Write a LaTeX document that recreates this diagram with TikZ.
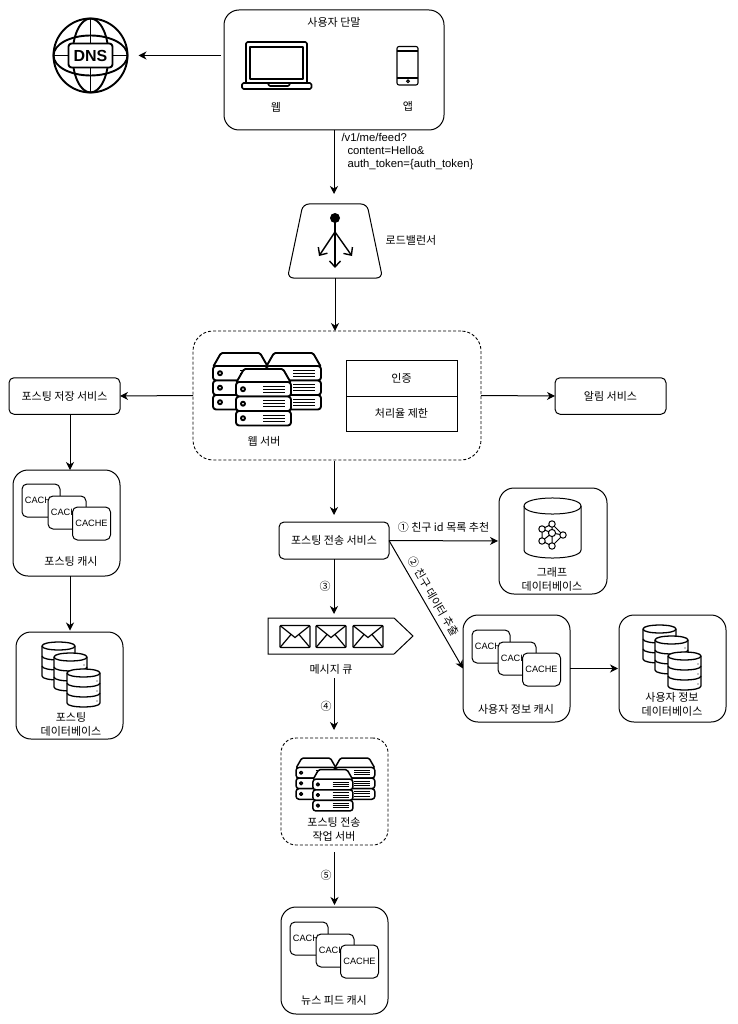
\documentclass[tikz,border=0pt]{standalone}
\usepackage{fontspec}
\setmainfont{Liberation Sans}
\newfontfamily\kr{Noto Sans CJK KR}
\usetikzlibrary{arrows.meta}
\tikzset{
  x=1pt,y=-1pt,
  arr/.style={draw,line width=1pt,-{Stealth[length=8pt,width=8pt,inset=2.5pt]}},
  krtext/.style={font=\kr\fontsize{11}{14}\selectfont,inner sep=0pt,align=center},
  latin/.style={font=\fontsize{11.3}{13}\selectfont,inner sep=0pt,align=left},
  rbox/.style={draw,line width=1pt,rounded corners=15pt,inner sep=0pt,outer sep=0pt,minimum width=#1},
  svc/.style={draw,line width=1pt,rounded corners=5pt,inner sep=0pt,outer sep=0pt,minimum width=111pt,minimum height=36.5pt,font=\kr\fontsize{11}{14}\selectfont},
  cell/.style={draw,line width=.9pt,inner sep=0pt,outer sep=0pt,minimum width=111pt,font=\kr\fontsize{11}{14}\selectfont},
  cachebox/.style={draw,line width=1pt,fill=white,rounded corners=5pt,inner sep=0pt,minimum width=38pt,minimum height=33pt,font=\fontsize{9.2}{11}\selectfont},
  icon/.style={line width=1.9pt,line join=round},
  dashbox/.style={line width=.9pt,dash pattern=on 3pt off 2pt},
  serverstack/.pic={
    \foreach \dx/\dy in {0/0,53/0,23/16}{
      \begin{scope}[shift={(\dx,\dy)}]
        \draw[fill=white,rounded corners=1.5pt] (0,14) -- (8,0) -- (47,0) -- (55,14) -- cycle;
        \foreach \r in {13,27.5,42}{
          \draw[fill=white,rounded corners=3pt] (0,\r) rectangle (55,\r+14.5);
          \draw[fill=white] (7,\r+7.2) circle[radius=2];
          \draw[line width=1pt] (27,\r+4.3) -- (49,\r+4.3) (27,\r+7.2) -- (49,\r+7.2) (27,\r+10.1) -- (49,\r+10.1);
        }
      \end{scope}
    }
  },
  cachestack/.pic={
    \node[cachebox] (-a) at (19,16.5) {CACHE};
    \node[cachebox] (-b) at (45,28.5) {CACHE};
    \node[cachebox] (-c) at (69.5,39.5) {CACHE};
  },
  dbstack/.pic={
    \foreach \dx/\dy in {0/0,12/11,25/27}{
      \begin{scope}[shift={(\dx,\dy)},line width=1.3pt]
        \draw[fill=white] (0,4) .. controls (0,-1.3) and (33,-1.3) .. (33,4) -- (33,34) .. controls (33,39.3) and (0,39.3) .. (0,34) -- cycle;
        \draw (0,4) .. controls (0,9.3) and (33,9.3) .. (33,4);
        \draw (0,14) .. controls (0,19.3) and (33,19.3) .. (33,14);
        \draw (0,24) .. controls (0,29.3) and (33,29.3) .. (33,24);
        \foreach \r in {12,22,32}{\fill (30,\r) circle[radius=.7];}
      \end{scope}
    }
  },
  envelope/.pic={
    \draw[line width=1.2pt,rounded corners=1pt] (0,0) rectangle (30,22);
    \draw[line width=1.2pt] (0,0) -- (15,12) -- (30,0) (0,22) -- (11,9) (30,22) -- (19,9);
  }
}
\begin{document}
\begin{tikzpicture}[line width=1pt]
\useasboundingbox (0,0) rectangle (737,1024);
\fill[white] (0,0) rectangle (737,1024);

% user terminal
\node[rbox=220pt,minimum height=120pt] (user) at (334,70) {};
\node[krtext] (usert) at (334,22.5) {사용자 단말};
\begin{scope}[icon,line width=1.6pt]
  \draw[rounded corners=1.5pt] (246,83) -- (246,42) -- (307,42) -- (307,83);
  \draw (250,47) rectangle (303,79);
  \draw[rounded corners=1.5pt] (242,83) rectangle (311.5,89);
  \draw[rounded corners=1pt] (268,83) -- (269,86) -- (289,86) -- (290,83);
\end{scope}
\begin{scope}[line width=1.1pt]
  \draw[rounded corners=2pt] (397,46.5) rectangle (418,85);
  \draw (397,51) -- (418,51) (397,78) -- (418,78);
  \draw (408,81.3) circle[radius=1.4];
\end{scope}
\node[krtext] (webt) at (276,107) {웹};
\node[krtext] (appt) at (408,106) {앱};

% DNS
\node[circle,minimum size=75pt,inner sep=0pt,outer sep=0pt] (dns) at (90.5,55.5) {};
\begin{scope}[icon]
  \draw (dns.center) circle[radius=37];
  \draw (dns.center) ellipse[x radius=18,y radius=37];
  \draw (dns.center) ellipse[x radius=37,y radius=20];
  \draw (dns.north) -- (dns.south) (dns.west) -- (dns.east);
\end{scope}
\node[draw,icon,fill=white,rounded corners=3pt,inner sep=0pt,minimum width=44pt,minimum height=24pt,font=\bfseries\fontsize{16}{16}\selectfont] (dnsl) at (dns.center) {DNS};
\draw[arr,shorten <=3pt,shorten >=10.5pt] (user.west |- dns.east) -- (dns.east);

% load balancer
\node[inner sep=0pt,outer sep=0pt,minimum width=94pt,minimum height=74pt] (lb) at (335,241) {};
\draw[rounded corners=6pt] (303,204) -- (367,204) -- (382.5,278) -- (287.5,278) -- cycle;
\fill (335,218) circle[radius=5];
\begin{scope}[line width=1.4pt]
  \draw[-{Straight Barb[length=6pt,width=11pt]}] (335,218) -- (335,268);
  \draw[-{Straight Barb[length=6pt,width=11pt]}] (335,232) -- (319,256);
  \draw[-{Straight Barb[length=6pt,width=11pt]}] (335,232) -- (352,256);
\end{scope}
\node[krtext] (lbt) at (411,240) {로드밸런서};
\draw[arr,shorten >=10pt] (user.south) -- (user.south |- lb.north);
\node[latin,anchor=north west] (url) at (341,133) {/v1/me/feed?\\\hspace*{6pt}content=Hello\&\\\hspace*{6pt}auth\_token=\{auth\_token\}};

% web server
\node[rbox=288pt,minimum height=129pt,dashbox,rounded corners=20pt] (web) at (337,395.5) {};
\draw[arr] (lb.south) -- (lb.south |- web.north);
\pic[icon] at (213,353) {serverstack};
\node[krtext] (webst) at (264,441) {웹 서버};
\node[cell,minimum height=36pt] (auth) at (401.5,378) {인증};
\node[cell,minimum height=35pt] (rate) at (401.5,413.5) {처리율 제한};

% left column
\node[svc] (save) at (64.5,396) {포스팅 저장 서비스};
\node[svc] (notify) at (610.5,396) {알림 서비스};
\draw[arr] (web.west) -- (save.east);
\draw[arr] (web.east) -- (notify.west);
\coordinate (lcol) at (70,0);
\node[rbox=107pt,minimum height=106pt] (pcache) at (66.5,523) {};
\pic (pc) at (22,484) {cachestack};
\node[krtext] (pcachet) at (71,561) {포스팅 캐시};
\node[rbox=107pt,minimum height=107pt] (pdb) at (69.5,685.5) {};
\pic at (42,642) {dbstack};
\node[krtext] (pdbt) at (71,724) {포스팅\\데이터베이스};
\draw[arr] (save.south -| lcol) -- (pcache.north -| lcol);
\draw[arr,shorten >=1.5pt] (pcache.south -| lcol) -- (pdb.north -| lcol);

% fan-out
\node[svc,minimum width=110pt,minimum height=37pt] (fan) at (334,540.5) {포스팅 전송 서비스};
\draw[arr,shorten <=1pt,shorten >=7pt] (web.south -| fan.north) -- (fan.north);

% graph db
\node[rbox=108pt,minimum height=106pt] (graph) at (553,541) {};
\draw (524,506) .. controls (524,495.3) and (581,495.3) .. (581,506) -- (581,550) .. controls (581,560.7) and (524,560.7) .. (524,550) -- cycle;
\draw (524,506) .. controls (524,516.7) and (581,516.7) .. (581,506);
\begin{scope}[line width=1pt]
  \draw (542,529) -- (552,524) -- (563,535) -- (552,546) -- (542,541) -- (552,533) -- (552,524)
        (542,529) -- (552,533) -- (563,535) (552,533) -- (552,546) (542,529) -- (542,541);
  \foreach \cx/\cy in {542/529,552/524,563/535,542/541,552/546}{
    \draw[fill=white] (\cx,\cy) circle[radius=3.2];
  }
  \draw[fill=white] (552,533) circle[radius=3.6];
\end{scope}
\node[krtext] (grapht) at (552,579) {그래프\\데이터베이스};
\draw[arr,shorten >=1pt] (fan.east) -- (graph.west);
\node[krtext] (l1) at (443.5,527) {① 친구 id 목록 추천};

% user info cache
\node[rbox=107pt,minimum height=107pt] (ucache) at (516.5,668.5) {};
\pic (uc) at (472,630) {cachestack};
\node[krtext] (ucachet) at (516,709) {사용자 정보 캐시};
\draw[arr] (fan.east) -- (ucache.west);
\node[krtext,rotate=-60] (l2) at (433.5,596.5) {② 친구 데이터 추출};

% user db
\node[rbox=107pt,minimum height=107pt] (udb) at (672.5,668.5) {};
\pic at (643,625) {dbstack};
\node[krtext] (udbt) at (672,704.5) {사용자 정보\\데이터베이스};
\draw[arr,shorten >=1pt] (ucache.east) -- (udb.west);

% message queue
\draw (268,618) -- (394,618) -- (413,636) -- (394,654) -- (268,654) -- cycle;
\coordinate (mqin) at (334,618);
\pic at (280,625.5) {envelope};
\pic at (316,625.5) {envelope};
\pic at (353,625.5) {envelope};
\node[krtext] (mqt) at (331,669) {메시지 큐};
\coordinate (mqout) at (334,678);
\draw[arr,shorten >=4pt] (fan.south) -- (mqin);
\node[krtext] (l3) at (325,586) {③};

% worker
\node[rbox=107pt,minimum height=107pt,dashbox] (worker) at (334.5,791.5) {};
\pic[icon,line width=1.5pt,scale=.73] at (296,758) {serverstack};
\node[krtext] (workert) at (334,829) {포스팅 전송\\작업 서버};
\draw[arr,shorten >=8pt] (mqout) -- (mqout |- worker.north);
\node[krtext] (l4) at (326,706) {④};

% news feed cache
\node[rbox=107pt,minimum height=107pt] (feed) at (334.5,960.5) {};
\pic (fc) at (290,922) {cachestack};
\node[krtext] (feedt) at (334,1000) {뉴스 피드 캐시};
\draw[arr,shorten <=7pt,shorten >=2pt] (worker.south) -- (feed.north);
\node[krtext] (l5) at (326,875) {⑤};
\end{tikzpicture}
\end{document}
